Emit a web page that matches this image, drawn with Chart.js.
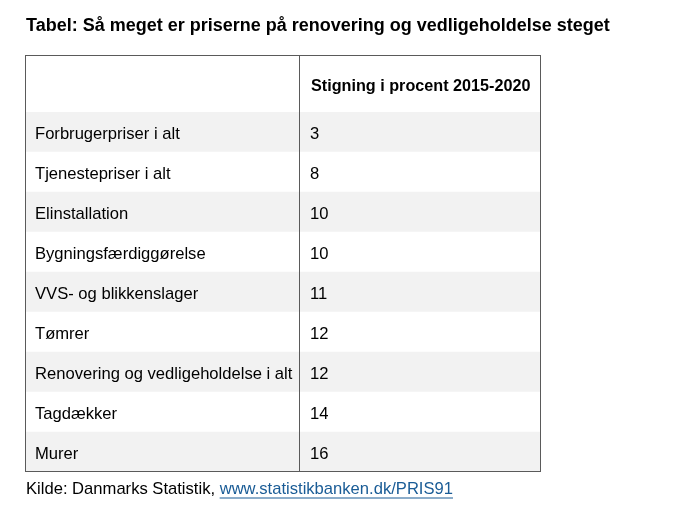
<!DOCTYPE html>
<html>
<head>
<meta charset="utf-8">
<script src="https://cdn.jsdelivr.net/npm/chart.js@4.4.1/dist/chart.umd.min.js"></script>
<style>
  html, body { margin: 0; padding: 0; background: #ffffff; }
  canvas { display: block; }
</style>
</head>
<body>
<canvas id="tbl" width="688" height="509"></canvas>
<script>
const title = 'Tabel: Så meget er priserne på renovering og vedligeholdelse steget';
const header = 'Stigning i procent 2015-2020';
const categories = [
  'Forbrugerpriser i alt',
  'Tjenestepriser i alt',
  'Elinstallation',
  'Bygningsfærdiggørelse',
  'VVS- og blikkenslager',
  'Tømrer',
  'Renovering og vedligeholdelse i alt',
  'Tagdækker',
  'Murer'
];
const values = [3, 8, 10, 10, 11, 12, 12, 14, 16];
const sourceText = 'Kilde: Danmarks Statistik, ';
const sourceLink = 'www.statistikbanken.dk/PRIS91';

// layout
const FONT = '"Liberation Sans", Arial, sans-serif';
const COL_SPLIT = 0.531;   // divider, as a fraction of the table width
const HEADER_H = 57;

// each row is a full-width band; odd rows shaded
const bands = categories.map(() => [0, 1]);
const bandColors = categories.map((c, i) => i % 2 === 0 ? '#f2f2f2' : '#ffffff');

const tablePlugin = {
  id: 'tableText',
  afterDatasetsDraw(chart) {
    const { ctx, chartArea, scales } = chart;
    const x = scales.x, y = scales.y;
    const left = x.getPixelForValue(0);
    const right = x.getPixelForValue(1);
    const split = x.getPixelForValue(COL_SPLIT);
    const top = chartArea.top - HEADER_H;
    const bottom = chartArea.bottom;

    ctx.save();
    ctx.textBaseline = 'middle';
    ctx.textAlign = 'left';

    // title
    ctx.fillStyle = '#000000';
    ctx.font = 'bold 18px ' + FONT;
    ctx.fillText(title, left + 1, 26);

    // header
    ctx.font = 'bold 16.2px ' + FONT;
    ctx.fillText(header, split + 12, (top + chartArea.top) / 2 + 3);

    // cells
    ctx.font = '16.6px ' + FONT;
    categories.forEach((cat, i) => {
      const cy = y.getPixelForValue(i) + 2.5;
      ctx.fillText(cat, left + 10, cy);
      ctx.fillText(String(values[i]), split + 11, cy);
    });

    // borders
    ctx.strokeStyle = '#5a5a5a';
    ctx.lineWidth = 1;
    ctx.strokeRect(left + 0.5, top + 0.5, right - left - 1, bottom - top - 1);
    ctx.beginPath();
    ctx.moveTo(Math.round(split) + 0.5, top);
    ctx.lineTo(Math.round(split) + 0.5, bottom);
    ctx.stroke();

    // source
    ctx.font = '16.6px ' + FONT;
    ctx.fillStyle = '#000000';
    const sy = bottom + 17.5;
    ctx.fillText(sourceText, left + 1, sy);
    const lx = left + 1 + ctx.measureText(sourceText).width;
    ctx.fillStyle = '#1a5c96';
    ctx.fillText(sourceLink, lx, sy);
    const lw = ctx.measureText(sourceLink).width;
    ctx.fillRect(lx, sy + 8, lw, 1);

    ctx.restore();
  }
};

new Chart(document.getElementById('tbl'), {
  type: 'bar',
  data: {
    labels: categories,
    datasets: [{
      data: bands,
      backgroundColor: bandColors,
      borderWidth: 0,
      barPercentage: 1,
      categoryPercentage: 1
    }]
  },
  options: {
    indexAxis: 'y',
    responsive: false,
    animation: false,
    events: [],
    layout: { padding: { left: 25, right: 147, top: 112, bottom: 37 } },
    plugins: { legend: { display: false }, tooltip: { enabled: false } },
    scales: {
      x: { type: 'linear', min: 0, max: 1, display: false },
      y: { type: 'category', display: false, offset: true }
    }
  },
  plugins: [tablePlugin]
});
</script>
</body>
</html>
